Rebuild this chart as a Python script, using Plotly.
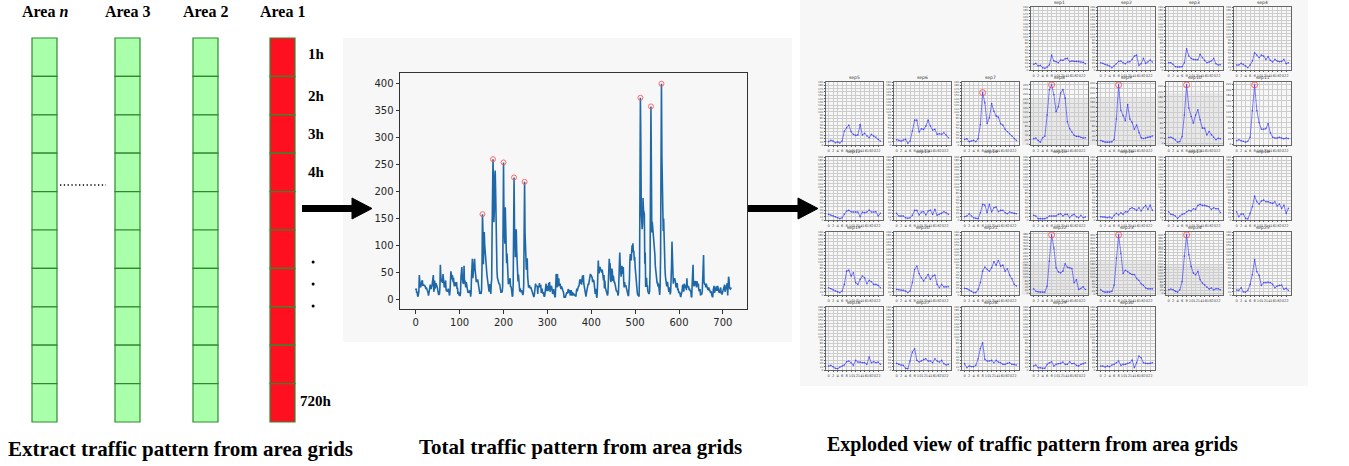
import plotly.graph_objects as go

W, H = 1349, 466

# ---------------- data: hourly traffic for each day (24 values) ----------------
sep1 = [17, 20, 12, 14, 7, 5, 9, 15, 45, 27, 25, 22, 30, 29, 34, 35, 25, 27, 26, 26, 26, 24, 23, 19]
sep2 = [22, 20, 17, 15, 12, 7, 12, 19, 26, 27, 22, 19, 24, 25, 32, 42, 45, 14, 19, 35, 20, 24, 30, 24]
sep3 = [22, 22, 17, 10, 9, 9, 10, 22, 64, 42, 35, 32, 31, 31, 47, 37, 29, 22, 24, 27, 35, 19, 15, 16]
sep4 = [15, 15, 20, 17, 12, 7, 15, 27, 52, 45, 37, 45, 42, 32, 40, 29, 24, 32, 27, 25, 26, 32, 19, 22]
sep5 = [10, 14, 12, 7, 9, 6, 12, 42, 52, 60, 40, 32, 29, 30, 62, 30, 35, 27, 22, 32, 27, 24, 17, 12]
sep6 = [16, 14, 12, 15, 17, 5, 12, 42, 75, 75, 39, 49, 47, 57, 75, 57, 45, 47, 32, 34, 32, 37, 30, 22]
sep7 = [17, 19, 10, 12, 14, 10, 19, 62, 158, 127, 65, 82, 125, 102, 87, 84, 64, 60, 47, 40, 34, 27, 19, 14]
sep8 = [25, 28, 17, 10, 29, 36, 128, 239, 260, 217, 143, 165, 224, 239, 202, 99, 69, 54, 40, 35, 35, 31, 28, 29]
sep9 = [20, 16, 13, 13, 13, 14, 24, 110, 254, 147, 125, 103, 171, 110, 96, 67, 85, 53, 31, 28, 30, 33, 34, 39]
sep10 = [23, 24, 20, 14, 5, 7, 27, 110, 226, 136, 104, 78, 110, 130, 91, 59, 59, 33, 46, 33, 24, 14, 20, 18]
sep11 = [13, 17, 13, 11, 8, 11, 26, 124, 218, 124, 80, 55, 55, 57, 76, 42, 26, 23, 23, 26, 23, 20, 23, 21]
sep12 = [17, 15, 13, 10, 7, 4, 7, 17, 27, 29, 25, 24, 24, 24, 10, 24, 22, 24, 30, 24, 24, 25, 12, 20]
sep13 = [20, 12, 12, 12, 7, 5, 7, 14, 29, 29, 15, 24, 25, 15, 27, 30, 17, 32, 14, 17, 20, 25, 22, 17]
sep14 = [10, 12, 19, 12, 7, 5, 4, 22, 47, 45, 22, 47, 24, 37, 39, 25, 29, 29, 22, 19, 24, 22, 20, 19]
sep15 = [14, 12, 4, 4, 4, 4, 7, 12, 12, 12, 12, 17, 19, 12, 17, 17, 7, 14, 17, 10, 7, 14, 7, 9]
sep16 = [10, 9, 10, 7, 9, 5, 14, 20, 15, 22, 17, 25, 24, 34, 37, 34, 29, 37, 27, 37, 44, 32, 45, 29]
sep17 = [25, 17, 16, 12, 5, 12, 17, 19, 25, 29, 27, 34, 32, 44, 47, 44, 44, 42, 40, 32, 37, 34, 34, 22]
sep18 = [25, 10, 18, 18, 5, 3, 20, 40, 72, 55, 48, 57, 60, 55, 55, 52, 50, 55, 42, 48, 35, 45, 20, 35]
sep19 = [22, 19, 15, 12, 9, 7, 12, 32, 72, 75, 57, 67, 37, 32, 47, 57, 52, 34, 44, 40, 32, 32, 29, 22]
sep20 = [17, 16, 15, 15, 12, 7, 12, 37, 77, 87, 64, 52, 42, 52, 62, 47, 57, 60, 32, 22, 32, 24, 25, 25]
sep21 = [20, 19, 15, 12, 7, 7, 17, 37, 72, 84, 77, 72, 82, 100, 90, 104, 87, 90, 72, 79, 60, 49, 32, 27]
sep22 = [27, 12, 8, 6, 6, 6, 44, 205, 374, 290, 162, 136, 130, 141, 188, 166, 162, 158, 66, 87, 23, 29, 40, 23]
sep23 = [26, 15, 11, 11, 11, 15, 52, 216, 358, 247, 124, 144, 134, 124, 118, 118, 93, 83, 62, 52, 36, 31, 31, 31]
sep24 = [24, 29, 24, 13, 8, 24, 81, 253, 400, 265, 184, 138, 127, 150, 93, 70, 58, 43, 29, 36, 24, 31, 31, 24]
sep25 = [15, 14, 22, 9, 9, 14, 32, 62, 107, 70, 59, 29, 37, 37, 39, 37, 32, 22, 27, 29, 30, 17, 20, 14]
sep26 = [12, 14, 10, 5, 4, 9, 12, 15, 25, 27, 22, 14, 29, 24, 24, 22, 22, 17, 39, 22, 25, 22, 24, 17]
sep27 = [20, 17, 15, 14, 5, 4, 27, 54, 64, 29, 24, 27, 32, 34, 27, 27, 22, 34, 27, 24, 29, 19, 15, 17]
sep28 = [19, 7, 12, 10, 10, 14, 34, 65, 82, 32, 27, 27, 29, 22, 29, 24, 22, 17, 17, 20, 22, 17, 17, 15]
sep29 = [12, 15, 7, 7, 5, 5, 17, 22, 25, 12, 17, 19, 20, 24, 17, 17, 25, 19, 20, 14, 12, 17, 19, 22]
sep30 = [12, 12, 9, 12, 10, 15, 17, 22, 27, 14, 17, 17, 20, 22, 30, 7, 22, 42, 37, 22, 20, 19, 20, 22]

days = [sep1, sep2, sep3, sep4, sep5, sep6, sep7, sep8, sep9, sep10,
        sep11, sep12, sep13, sep14, sep15, sep16, sep17, sep18, sep19, sep20,
        sep21, sep22, sep23, sep24, sep25, sep26, sep27, sep28, sep29, sep30]
day_names = ["sep%d" % (i + 1) for i in range(len(days))]
hours = list(range(24))
hour_ticks = list(range(0, 24, 2))
peak_days = [7, 8, 9, 10, 11, 22, 23, 24]
autoscale_days = [8, 9, 10, 11, 22, 23, 24]

total = [v for d in days for v in d]
hour_index = list(range(len(total)))
total_xticks = list(range(0, 701, 100))
total_yticks = list(range(0, 401, 50))

area_names = ["Area <i>n</i>", "Area 3", "Area 2", "Area 1"]
hour_labels = ["1h", "2h", "3h", "4h", "720h"]
captions = ["Extract traffic pattern from area grids",
            "Total traffic pattern from area grids",
            "Exploded view of traffic pattern from area grids"]

# ---------------- helpers ----------------
def fx(px):
    return px / W

def fy(py):
    return 1 - py / H

SERIF = "Liberation Serif, Times New Roman, serif"
SANS = "DejaVu Sans, sans-serif"

fig = go.Figure()
shapes = []
annotations = []

# panel backgrounds
shapes.append(dict(type="rect", xref="paper", yref="paper", x0=fx(343), x1=fx(792),
                   y0=fy(342), y1=fy(38), fillcolor="#f7f7f7", line_width=0, layer="below"))
shapes.append(dict(type="rect", xref="paper", yref="paper", x0=fx(800), x1=fx(1308),
                   y0=fy(386), y1=fy(0), fillcolor="#f7f7f7", line_width=0, layer="below"))

# ---------------- left: area grids ----------------
col_lefts = [32, 115, 193, 270]
cell_w, grid_top, cell_h, n_cells = 25, 38, 38.4, 10
for ci, left in enumerate(col_lefts):
    fill = "#ff1020" if ci == 3 else "#aaffaa"
    for r in range(n_cells):
        shapes.append(dict(type="rect", xref="paper", yref="paper",
                           x0=fx(left), x1=fx(left + cell_w),
                           y0=fy(grid_top + (r + 1) * cell_h), y1=fy(grid_top + r * cell_h),
                           fillcolor=fill, line=dict(color="#2f8a2f", width=1.2)))
    annotations.append(dict(xref="paper", yref="paper", x=fx(left + cell_w / 2), y=fy(12),
                            text="<b>%s</b>" % area_names[ci], showarrow=False,
                            font=dict(family=SERIF, size=16, color="black"),
                            xanchor="center", yanchor="middle"))

label_ys = [54, 96, 134, 172, 401]
for lab, ly in zip(hour_labels, label_ys):
    annotations.append(dict(xref="paper", yref="paper", x=fx(316), y=fy(ly),
                            text="<b>%s</b>" % lab, showarrow=False,
                            font=dict(family=SERIF, size=15, color="black"),
                            xanchor="center", yanchor="middle"))

for dy in [262, 284, 306]:
    shapes.append(dict(type="circle", xref="paper", yref="paper", x0=fx(311.6), x1=fx(314.6),
                       y0=fy(dy + 1.5), y1=fy(dy - 1.5), fillcolor="black", line_width=0))

shapes.append(dict(type="line", xref="paper", yref="paper", x0=fx(60), x1=fx(106),
                   y0=fy(185), y1=fy(185), line=dict(color="black", width=1.3, dash="1.3px,2.5px")))

# arrows
for x_start, x_head in [(302, 352), (748, 798)]:
    shapes.append(dict(type="line", xref="paper", yref="paper", x0=fx(x_start), x1=fx(x_head + 2),
                       y0=fy(208.5), y1=fy(208.5), line=dict(color="black", width=7), layer="above"))
    shapes.append(dict(type="path", xref="paper", yref="paper",
                       path="M %f,%f L %f,%f L %f,%f Z" % (fx(x_head), fy(198), fx(x_head + 20), fy(208.5),
                                                        fx(x_head), fy(219)),
                       fillcolor="black", line=dict(color="black", width=1), layer="above"))

# captions
for text, cx, cy, fs in zip(captions, [180, 580, 1032], [449, 447, 444], [21, 21, 20]):
    annotations.append(dict(xref="paper", yref="paper", x=fx(cx), y=fy(cy),
                            text="<b>%s</b>" % text, showarrow=False,
                            font=dict(family=SERIF, size=fs, color="black"),
                            xanchor="center", yanchor="middle"))

# ---------------- middle: total traffic ----------------
fig.add_trace(go.Scatter(x=hour_index, y=total, mode="lines",
                         line=dict(color="#1f68a8", width=1.6),
                         xaxis="x", yaxis="y", hoverinfo="skip"))
peak_idx = [(d - 1) * 24 + days[d - 1].index(max(days[d - 1])) for d in peak_days]
fig.add_trace(go.Scatter(x=peak_idx, y=[total[i] for i in peak_idx], mode="markers",
                         marker=dict(symbol="circle-open", size=5, color="rgba(255,90,90,0.9)",
                                     line=dict(width=1)),
                         xaxis="x", yaxis="y", hoverinfo="skip"))

axis_layout = {}
axis_layout["xaxis"] = dict(domain=[fx(400), fx(747)], range=[-36, 755], tickvals=total_xticks,
                            ticks="outside", ticklen=3.5, tickcolor="#333", showline=True, mirror=True,
                            linecolor="#333", linewidth=1, showgrid=False, zeroline=False,
                            tickfont=dict(family=SANS, size=10, color="#262626"), anchor="y",
                            automargin=False)
axis_layout["yaxis"] = dict(domain=[fy(309), fy(73)], range=[-18, 420], tickvals=total_yticks,
                            ticks="outside", ticklen=3.5, tickcolor="#333", showline=True, mirror=True,
                            linecolor="#333", linewidth=1, showgrid=False, zeroline=False,
                            tickfont=dict(family=SANS, size=10, color="#262626"), anchor="x",
                            automargin=False)

# ---------------- right: exploded view ----------------
sm_col_left = [826, 894, 962, 1031, 1098, 1166, 1234]
sm_row_top = [7, 82, 157, 232, 307]
sm_w, sm_h = 57, 63
band_frac = {8: 0.73, 9: 0.75, 10: 0.82, 22: 0.52, 23: 0.54, 24: 0.48}

for i, d in enumerate(days):
    dayno = i + 1
    n = i + 2
    k = i + 3
    row, col = k // 7, k % 7
    left, top = sm_col_left[col], sm_row_top[row]
    if dayno in autoscale_days:
        lo, hi = min(d), max(d)
        pad = 0.05 * (hi - lo)
        yr = [lo - pad, hi + pad]
        ydt = 20
    else:
        yr = [0, 190]
        ydt = 10
    if dayno in band_frac:
        shapes.append(dict(type="rect", xref="paper", yref="paper", x0=fx(left - 9), x1=fx(left + sm_w),
                           y0=fy(top + sm_h), y1=fy(top + sm_h - band_frac[dayno] * sm_h),
                           fillcolor="rgba(0,0,0,0.06)", line_width=0, layer="below"))
    fig.add_trace(go.Scatter(x=hours, y=d, mode="lines+markers",
                             line=dict(color="rgba(40,40,255,0.65)", width=0.9),
                             marker=dict(size=1.6, color="rgba(40,40,255,0.7)"),
                             xaxis="x%d" % n, yaxis="y%d" % n, hoverinfo="skip"))
    if dayno in peak_days:
        ph = d.index(max(d))
        fig.add_trace(go.Scatter(x=[ph], y=[d[ph]], mode="markers",
                                 marker=dict(symbol="circle-open", size=6, color="rgba(255,60,60,0.85)",
                                             line=dict(width=0.9)),
                                 xaxis="x%d" % n, yaxis="y%d" % n, hoverinfo="skip"))
    axis_layout["xaxis%d" % n] = dict(domain=[fx(left), fx(left + sm_w)], range=[-1.15, 24.15],
                                      tickvals=hour_ticks, tickangle=0, ticks="outside", ticklen=1.5,
                                      tickcolor="#555", showline=True, mirror=True, linecolor="#666",
                                      linewidth=0.8, showgrid=True, gridcolor="#cdcdcd", gridwidth=0.5,
                                      zeroline=False, tickfont=dict(family=SANS, size=3.6, color="#444"),
                                      anchor="y%d" % n, automargin=False)
    axis_layout["yaxis%d" % n] = dict(domain=[fy(top + sm_h), fy(top)], range=yr, dtick=ydt, tick0=0,
                                      ticks="outside", ticklen=1.2, tickcolor="#555", showline=True,
                                      mirror=True, linecolor="#666", linewidth=0.8, showgrid=True,
                                      gridcolor="#cdcdcd", gridwidth=0.5, zeroline=False,
                                      tickfont=dict(family=SANS, size=2.8, color="#555"),
                                      anchor="x%d" % n, automargin=False)
    annotations.append(dict(xref="paper", yref="paper", x=fx(left + sm_w / 2), y=fy(top - 0.5),
                            text=day_names[i], showarrow=False,
                            font=dict(family=SANS, size=4.5, color="#333"),
                            xanchor="center", yanchor="bottom"))

fig.update_layout(**axis_layout)
fig.update_layout(template="none", width=W, height=H, autosize=False,
                  margin=dict(l=0, r=0, t=0, b=0, pad=0),
                  paper_bgcolor="white", plot_bgcolor="rgba(0,0,0,0)",
                  showlegend=False, hovermode=False,
                  shapes=shapes, annotations=annotations)

fig.write_html("out.html", config={"displayModeBar": False})
